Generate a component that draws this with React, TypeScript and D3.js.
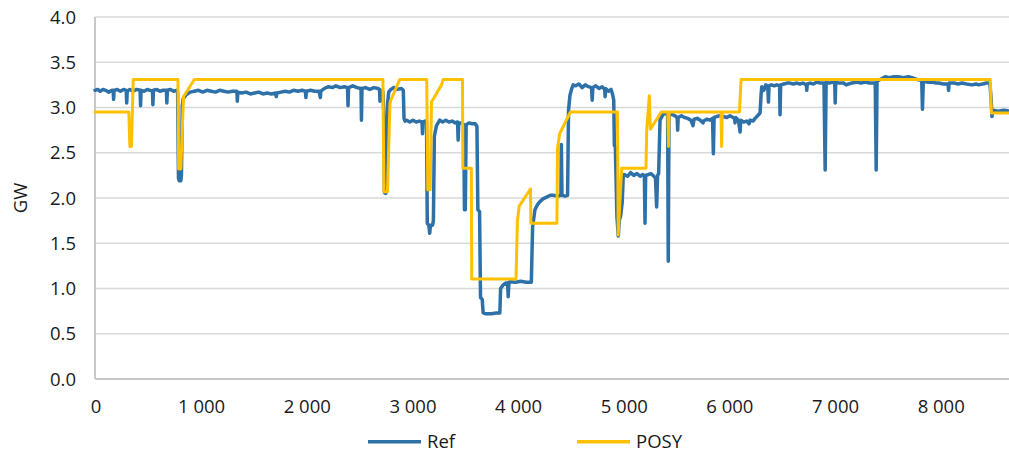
import React from "react";
import * as d3 from "d3";

// Hourly output over the year, GW
const refPoints: [number, number][] = [
  [0, 3.19], [25, 3.2], [50, 3.18], [75, 3.2], [100, 3.19], [130, 3.17], [160, 3.19], [172, 3.19], [176, 3.09], [181, 3.19],
  [210, 3.2], [240, 3.18], [270, 3.2], [296, 3.19], [300, 3.05], [305, 3.18], [330, 3.2], [360, 3.18], [395, 3.2], [427, 3.19],
  [431, 3.02], [436, 3.19], [465, 3.18], [495, 3.2], [520, 3.19], [544, 3.18], [548, 3.03], [553, 3.19], [585, 3.2], [615, 3.18],
  [645, 3.19], [676, 3.19], [680, 3.05], [685, 3.19], [715, 3.2], [745, 3.18], [772, 3.19], [782, 3.17], [790, 2.22], [797, 2.19],
  [812, 2.19], [818, 2.25], [826, 3.02], [835, 3.1], [863, 3.14], [900, 3.17], [940, 3.18], [980, 3.19], [1020, 3.17], [1060, 3.19],
  [1100, 3.18], [1140, 3.17], [1180, 3.19], [1220, 3.18], [1260, 3.17], [1300, 3.18], [1343, 3.18], [1347, 3.07], [1352, 3.17], [1390, 3.16],
  [1430, 3.17], [1470, 3.15], [1510, 3.16], [1550, 3.17], [1590, 3.15], [1630, 3.16], [1670, 3.15], [1710, 3.16], [1716, 3.12], [1722, 3.16],
  [1760, 3.17], [1800, 3.18], [1840, 3.17], [1880, 3.19], [1920, 3.18], [1960, 3.19], [1992, 3.18], [1996, 3.11], [2001, 3.18], [2040, 3.19],
  [2080, 3.18], [2120, 3.18], [2133, 3.11], [2138, 3.18], [2170, 3.21], [2210, 3.23], [2250, 3.22], [2280, 3.24], [2320, 3.22], [2360, 3.23],
  [2390, 3.22], [2395, 3.02], [2400, 3.22], [2440, 3.24], [2480, 3.22], [2518, 3.21], [2522, 2.86], [2527, 3.21], [2560, 3.22], [2600, 3.2],
  [2640, 3.22], [2680, 3.21], [2693, 3.2], [2697, 3.07], [2703, 3.19], [2725, 3.18], [2735, 2.9], [2740, 2.06], [2752, 2.05], [2760, 2.3],
  [2770, 3.05], [2780, 3.17], [2800, 3.2], [2830, 3.22], [2860, 3.2], [2900, 3.21], [2918, 3.19], [2925, 2.88], [2935, 2.85], [2950, 2.86],
  [2980, 2.84], [3010, 2.86], [3040, 2.84], [3070, 2.85], [3095, 2.84], [3100, 2.71], [3105, 2.84], [3125, 2.85], [3138, 2.84], [3145, 1.72],
  [3160, 1.7], [3168, 1.61], [3175, 1.7], [3195, 1.7], [3203, 1.75], [3212, 2.68], [3232, 2.8], [3263, 2.86], [3290, 2.84], [3320, 2.86],
  [3350, 2.84], [3380, 2.85], [3410, 2.83], [3432, 2.84], [3437, 2.64], [3443, 2.83], [3470, 2.83], [3490, 2.81], [3497, 1.87], [3505, 1.87],
  [3513, 2.81], [3540, 2.83], [3570, 2.82], [3600, 2.82], [3615, 2.79], [3624, 1.87], [3640, 1.85], [3649, 0.9], [3665, 0.88], [3674, 0.73],
  [3700, 0.72], [3750, 0.72], [3800, 0.73], [3832, 0.73], [3839, 1.0], [3863, 1.04], [3889, 1.06], [3905, 1.06], [3911, 0.91], [3918, 1.07],
  [3927, 1.075], [3980, 1.07], [4030, 1.08], [4080, 1.07], [4130, 1.07], [4142, 1.68], [4164, 1.87], [4190, 1.93], [4211, 1.96], [4240, 1.99],
  [4274, 2.01], [4310, 2.03], [4337, 2.03], [4380, 2.02], [4410, 2.03], [4414, 2.59], [4420, 2.03], [4450, 2.02], [4473, 2.03], [4482, 2.97],
  [4495, 3.13], [4510, 3.2], [4526, 3.25], [4550, 3.24], [4580, 3.26], [4610, 3.22], [4640, 3.25], [4670, 3.23], [4700, 3.22], [4706, 3.08],
  [4712, 3.22], [4740, 3.24], [4770, 3.21], [4800, 3.23], [4824, 3.2], [4828, 3.12], [4833, 3.21], [4860, 3.18], [4885, 3.2], [4900, 3.14],
  [4910, 3.08], [4916, 2.58], [4925, 2.57], [4940, 1.8], [4953, 1.58], [4962, 1.75], [4975, 1.8], [4990, 1.95], [5000, 2.24], [5010, 2.26],
  [5040, 2.24], [5070, 2.28], [5100, 2.25], [5130, 2.27], [5160, 2.24], [5185, 2.26], [5200, 2.24], [5206, 1.72], [5212, 2.25], [5240, 2.26],
  [5262, 2.27], [5290, 2.24], [5305, 2.22], [5316, 1.9], [5325, 2.25], [5335, 2.27], [5348, 2.86], [5379, 2.93], [5411, 2.93], [5420, 2.92],
  [5426, 1.3], [5433, 2.92], [5442, 2.93], [5470, 2.92], [5500, 2.9], [5511, 2.88], [5515, 2.75], [5520, 2.89], [5550, 2.91], [5580, 2.89],
  [5610, 2.88], [5640, 2.86], [5660, 2.8], [5670, 2.87], [5700, 2.88], [5730, 2.86], [5755, 2.83], [5760, 2.85], [5790, 2.87], [5820, 2.86],
  [5845, 2.88], [5853, 2.49], [5860, 2.89], [5885, 2.9], [5915, 2.91], [5948, 2.9], [5980, 2.89], [6010, 2.91], [6040, 2.89], [6054, 2.88],
  [6058, 2.83], [6064, 2.89], [6090, 2.86], [6106, 2.73], [6112, 2.86], [6140, 2.84], [6169, 2.85], [6191, 2.82], [6200, 2.86], [6230, 2.85],
  [6248, 2.88], [6280, 2.92], [6295, 2.94], [6305, 3.15], [6311, 3.23], [6330, 3.19], [6350, 3.25], [6368, 3.23], [6374, 3.06], [6380, 3.24],
  [6400, 3.25], [6430, 3.24], [6453, 3.25], [6480, 3.24], [6484, 2.92], [6490, 3.25], [6520, 3.26], [6550, 3.27], [6579, 3.27], [6610, 3.26],
  [6642, 3.27], [6670, 3.26], [6700, 3.27], [6733, 3.25], [6737, 3.19], [6742, 3.26], [6769, 3.27], [6800, 3.26], [6830, 3.28], [6864, 3.27],
  [6900, 3.27], [6911, 2.31], [6920, 3.28], [6950, 3.27], [6980, 3.28], [7002, 3.27], [7006, 3.05], [7011, 3.28], [7040, 3.27], [7085, 3.27],
  [7110, 3.25], [7132, 3.26], [7160, 3.27], [7211, 3.28], [7250, 3.27], [7290, 3.28], [7330, 3.27], [7385, 3.27], [7394, 2.31], [7402, 3.29],
  [7416, 3.3], [7450, 3.32], [7479, 3.34], [7520, 3.33], [7560, 3.34], [7605, 3.34], [7650, 3.33], [7700, 3.34], [7732, 3.33], [7780, 3.31],
  [7825, 3.3], [7832, 2.98], [7840, 3.29], [7880, 3.28], [7921, 3.28], [7960, 3.27], [7984, 3.27], [8030, 3.26], [8075, 3.26], [8079, 3.19],
  [8085, 3.27], [8130, 3.27], [8170, 3.26], [8206, 3.27], [8250, 3.26], [8300, 3.25], [8340, 3.26], [8363, 3.25], [8400, 3.26], [8440, 3.27],
  [8470, 3.27], [8482, 3.1], [8490, 2.9], [8500, 2.97], [8550, 2.96], [8600, 2.97], [8650, 2.96], [8700, 2.97], [8760, 2.96],
];

const posyPoints: [number, number][] = [
  [0, 2.95], [320, 2.95], [330, 2.57], [345, 2.57], [362, 3.31], [785, 3.31], [792, 2.32], [812, 2.32], [838, 3.12], [860, 3.16],
  [940, 3.31], [2725, 3.31], [2735, 2.07], [2768, 2.07], [2792, 3.05], [2800, 3.08], [2885, 3.31], [3140, 3.31], [3150, 2.09], [3172, 2.09],
  [3185, 3.06], [3280, 3.25], [3295, 3.31], [3478, 3.31], [3482, 2.33], [3562, 2.33], [3566, 1.105], [3985, 1.105], [3998, 1.74], [4015, 1.91],
  [4122, 2.1], [4126, 1.72], [4372, 1.72], [4378, 2.55], [4398, 2.71], [4500, 2.95], [4945, 2.95], [4952, 1.59], [4985, 2.33], [5215, 2.33],
  [5222, 2.75], [5247, 3.13], [5257, 2.76], [5360, 2.95], [5422, 2.95], [5428, 2.57], [5434, 2.95], [5925, 2.95], [5931, 2.57], [5937, 2.95],
  [6100, 2.95], [6115, 3.31], [8473, 3.31], [8485, 2.94], [8760, 2.94],
];

const yTicks = [0, 0.5, 1, 1.5, 2, 2.5, 3, 3.5, 4];
const xTicks = [0, 1000, 2000, 3000, 4000, 5000, 6000, 7000, 8000];
const seriesNames = ["Ref", "POSY"];
const seriesColors = ["#2E70A8", "#FFC000"];

const W = 1009;
const H = 452;
const FONT = "'Open Sans', 'Noto Sans', sans-serif";

const numLocale = d3.formatLocale({
  decimal: ".",
  thousands: "\u00a0",
  grouping: [3],
  currency: ["", ""],
});
const fmtX = numLocale.format(",");
const fmtY = d3.format(".1f");

export default function App() {
  const x = d3.scaleLinear().domain([0, 8760]).range([95, 1020.5]);
  const y = d3.scaleLinear().domain([0, 4]).range([379, 17]);
  const line = d3
    .line<[number, number]>()
    .x((d) => x(d[0]))
    .y((d) => y(d[1]));

  const [x0, x1] = x.range();

  return (
    <svg
      width={W}
      height={H}
      style={{ position: "absolute", left: 0, top: 0, background: "#fff" }}
      fontFamily={FONT}
    >
      {/* horizontal gridlines */}
      {yTicks
        .filter((t) => t > 0)
        .map((t) => (
          <line key={t} x1={x0} x2={x1} y1={y(t)} y2={y(t)} stroke="#D9D9D9" strokeWidth={1.5} />
        ))}
      {/* axes */}
      <line x1={x0} x2={x0} y1={y(4)} y2={y(0)} stroke="#C8C8C8" strokeWidth={2} />
      <line x1={x0} x2={x1} y1={y(0)} y2={y(0)} stroke="#C8C8C8" strokeWidth={2} />

      {/* y tick labels */}
      {yTicks.map((t) => (
        <text key={t} x={76} y={y(t) + 6.6} textAnchor="end" fontSize={18.5} fill="#1a1a1a">
          {fmtY(t)}
        </text>
      ))}
      {/* x tick labels */}
      {xTicks.map((t) => (
        <text key={t} x={x(t) + 1} y={413.3} textAnchor="middle" fontSize={18.5} fill="#1a1a1a">
          {fmtX(t)}
        </text>
      ))}
      {/* y axis title */}
      <text
        transform={`translate(26.5, 198) rotate(-90)`}
        textAnchor="middle"
        fontSize={18.5}
        fill="#1a1a1a"
      >
        GW
      </text>

      {/* series */}
      <path
        d={line(refPoints) ?? ""}
        fill="none"
        stroke={seriesColors[0]}
        strokeWidth={3.5}
        strokeLinejoin="round"
        strokeLinecap="round"
      />
      <path
        d={line(posyPoints) ?? ""}
        fill="none"
        stroke={seriesColors[1]}
        strokeWidth={3}
        strokeLinejoin="round"
        strokeLinecap="round"
      />

      {/* legend */}
      {seriesNames.map((name, i) => {
        const lx = i === 0 ? 368 : 577;
        return (
          <g key={name}>
            <line x1={lx} x2={lx + 53} y1={441.7} y2={441.7} stroke={seriesColors[i]} strokeWidth={3.5} />
            <text x={lx + 59} y={448} fontSize={18.5} fill="#1a1a1a">
              {name}
            </text>
          </g>
        );
      })}
    </svg>
  );
}
